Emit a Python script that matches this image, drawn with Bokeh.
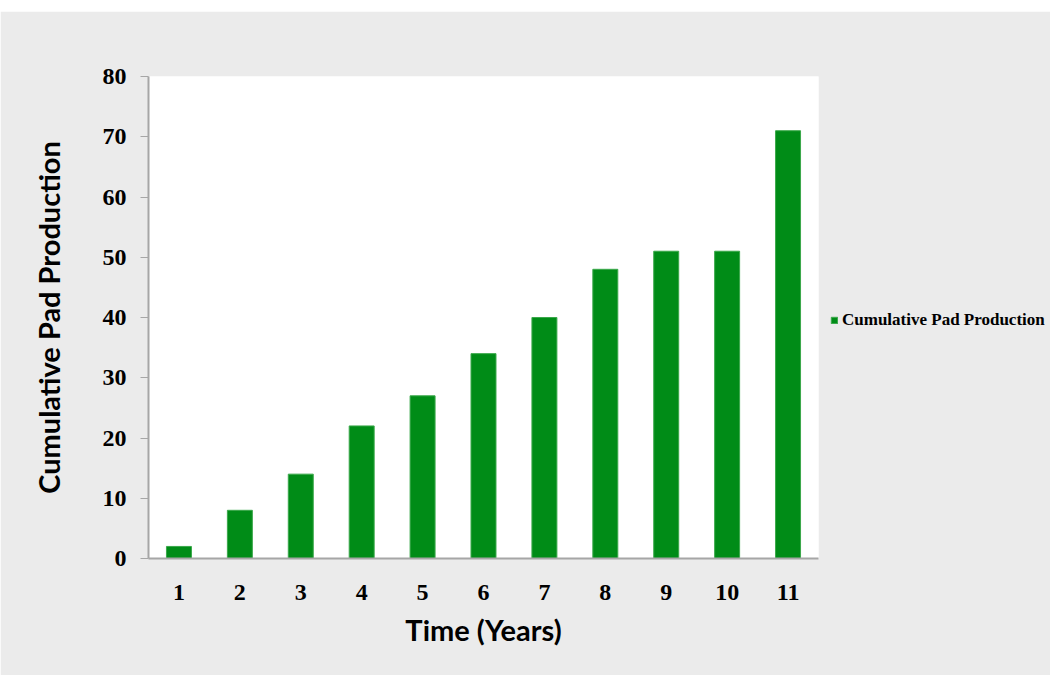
from bokeh.plotting import figure
from bokeh.models import Legend, LegendItem, FixedTicker, ColumnDataSource, Spacer
from bokeh.layouts import column
from bokeh.embed import file_html
from bokeh.resources import INLINE

years = ["1", "2", "3", "4", "5", "6", "7", "8", "9", "10", "11"]
production = [2, 8, 14, 22, 27, 34, 40, 48, 51, 51, 71]
y_ticks = [0, 10, 20, 30, 40, 50, 60, 70, 80]

GRAY = "#ebebeb"
GREEN = "#008c17"

src = ColumnDataSource(dict(x=years, top=production))

p = figure(x_range=years, y_range=(0, 80), frame_width=670, frame_height=482,
           output_backend="svg", toolbar_location=None,
           min_border_left=148, min_border_right=232, min_border_top=65,
           min_border_bottom=117)
p.border_fill_color = GRAY
p.background_fill_color = "white"
p.outline_line_color = None
p.xgrid.visible = False
p.ygrid.visible = False
p.x_range.range_padding = 0

r = p.vbar(x="x", top="top", width=0.41, source=src, fill_color=GREEN,
           line_color="#3aa84a", line_width=1)

p.yaxis.ticker = FixedTicker(ticks=y_ticks)
for ax in (p.xaxis[0], p.yaxis[0]):
    ax.axis_line_color = "#a6a6a6"
    ax.axis_line_width = 2
    ax.major_label_text_font = "Liberation Serif"
    ax.major_label_text_font_style = "bold"
    ax.major_label_text_font_size = "24px"
    ax.major_label_text_color = "black"
    ax.minor_tick_line_color = None
    ax.axis_label_text_font = "Lato"
    ax.axis_label_text_font_style = "bold"
    ax.axis_label_text_font_size = "29px"
    ax.axis_label_text_color = "black"

p.yaxis.major_tick_line_color = "#a6a6a6"
p.yaxis.major_tick_line_width = 1
p.yaxis.major_tick_out = 8
p.yaxis.major_tick_in = 0
p.yaxis.major_label_standoff = 14
p.yaxis.axis_label = "Cumulative Pad Production"
p.yaxis.axis_label_standoff = 34

p.xaxis.major_tick_line_color = None
p.xaxis.major_label_standoff = 20
p.xaxis.axis_label = "Time (Years)"
p.xaxis.axis_label_standoff = 9

legend = Legend(items=[LegendItem(label="Cumulative Pad Production", renderers=[r])],
                location=(12, 228), orientation="vertical",
                background_fill_alpha=0, border_line_color=None,
                padding=0, margin=12, glyph_width=8, glyph_height=8,
                label_standoff=4, label_text_font="Liberation Serif",
                label_text_font_style="bold", label_text_font_size="17px",
                label_text_color="black", label_height=16)
p.add_layout(legend, "right")

top_strip = Spacer(width=1050, height=11)
layout = column(top_strip, p, spacing=0)

open("out.html", "w").write(file_html(layout, INLINE))
